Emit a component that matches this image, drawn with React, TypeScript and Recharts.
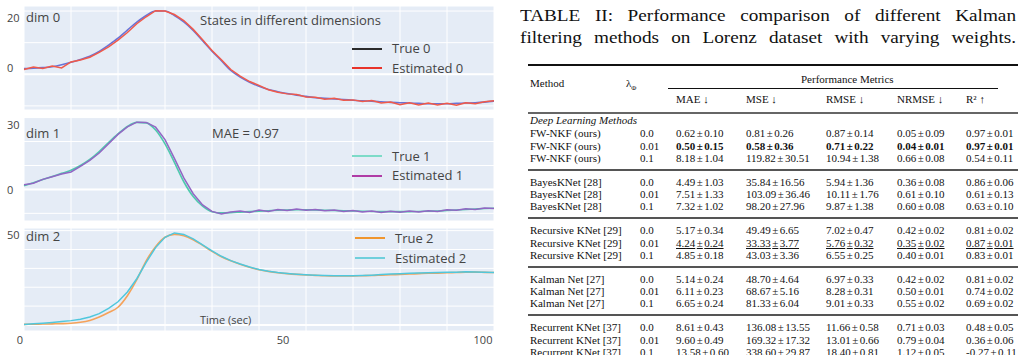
import React from 'react';
import { LineChart, Line, XAxis, YAxis, CartesianGrid, ReferenceLine } from 'recharts';

// time axis (sec), one sample every 2 s
const timeSec = [0, 2, 4, 6, 8, 10, 12, 14, 16, 18, 20, 22, 24, 26, 28, 30, 32, 34, 36, 38, 40, 42, 44, 46, 48, 50, 52, 54, 56, 58, 60, 62, 64, 66, 68, 70, 72, 74, 76, 78, 80, 82, 84, 86, 88, 90, 92, 94, 96, 98, 100];

const trueDim0 = [1.8, 1.9, 2.1, 2.4, 3.0, 3.8, 4.7, 5.7, 7.2, 9.2, 11.4, 14.0, 16.5, 18.6, 20.0, 20.0, 18.6, 16.6, 13.9, 10.6, 7.3, 4.3, 1.2, -0.9, -2.5, -3.8, -4.8, -5.5, -6.1, -6.6, -7.0, -7.4, -7.6, -7.8, -8.0, -8.2, -8.4, -8.5, -8.7, -8.9, -9.0, -9.1, -9.2, -9.3, -9.3, -9.3, -9.2, -9.1, -9.0, -8.8, -8.5];
const estDim0 = [1.5, 2.3, 1.8, 2.6, 2.0, 3.9, 4.5, 5.4, 6.9, 8.7, 10.8, 13.2, 16.0, 18.2, 20.1, 20.0, 18.9, 17.0, 14.2, 10.9, 7.5, 4.6, 1.5, -0.6, -2.3, -3.5, -4.9, -5.7, -6.2, -6.4, -7.2, -7.3, -7.9, -7.6, -8.2, -8.1, -8.6, -8.3, -9.1, -8.8, -9.6, -9.0, -9.7, -9.1, -9.7, -9.2, -9.8, -9.0, -9.3, -8.7, -8.4];

const trueDim1 = [1.5, 2.8, 4.1, 5.4, 6.7, 8.0, 10.0, 12.5, 15.8, 19.6, 23.2, 26.3, 28.0, 27.8, 24.8, 19.0, 11.3, 3.2, -3.0, -7.0, -9.3, -9.8, -9.7, -9.5, -9.3, -9.1, -8.9, -8.7, -8.6, -8.5, -8.5, -8.6, -8.7, -8.8, -8.9, -9.0, -9.1, -9.2, -9.3, -9.3, -9.3, -9.3, -9.2, -9.1, -9.0, -8.8, -8.6, -8.4, -8.2, -8.0, -7.9];
const estDim1 = [1.9, 2.6, 4.2, 5.3, 6.4, 7.3, 9.6, 12.1, 15.2, 19.1, 23.0, 26.1, 28.1, 28.0, 26.0, 20.8, 13.0, 4.8, -1.8, -6.5, -9.2, -10.3, -9.4, -9.0, -9.6, -8.6, -9.2, -8.4, -8.8, -8.2, -8.7, -8.4, -8.9, -8.6, -9.2, -8.8, -9.4, -9.0, -9.6, -9.1, -9.5, -9.0, -9.4, -8.9, -9.2, -8.5, -8.7, -8.1, -8.4, -7.8, -8.0];

const trueDim2 = [0.3, 0.4, 0.5, 0.6, 0.7, 0.9, 1.4, 2.4, 4.2, 6.6, 9.4, 15.5, 24.0, 34.0, 41.5, 46.5, 48.0, 47.3, 45.2, 42.2, 39.0, 36.2, 34.0, 32.2, 30.6, 29.3, 28.4, 27.7, 27.2, 26.8, 26.5, 26.3, 26.1, 26.0, 26.0, 26.0, 26.1, 26.2, 26.4, 26.6, 26.8, 27.0, 27.2, 27.4, 27.5, 27.7, 27.8, 28.0, 28.0, 27.9, 27.8];
const estDim2 = [0.3, 0.6, 0.9, 1.3, 1.8, 2.3, 3.0, 4.2, 6.0, 8.8, 12.3, 17.5, 24.5, 33.2, 41.0, 46.5, 48.8, 48.0, 45.6, 42.5, 39.3, 36.4, 34.1, 32.3, 30.7, 29.4, 28.5, 27.8, 27.3, 26.9, 26.6, 26.4, 26.2, 26.1, 26.1, 26.1, 26.2, 26.4, 26.7, 27.0, 27.2, 27.4, 27.6, 27.7, 27.8, 27.9, 28.0, 28.2, 28.1, 27.9, 27.8];

const xGridTicks = [0, 10, 20, 30, 40, 50, 60, 70, 80, 90, 100];
const xLabelTicks = [0, 50, 100];

// table
const tableTitle = [
  'TABLE II: Performance comparison of different Kalman',
  'filtering methods on Lorenz dataset with varying weights.',
];
const methodNames = ['FW-NKF (ours)', 'BayesKNet [28]', 'Recursive KNet [29]', 'Kalman Net [27]', 'Recurrent KNet [37]'];
const lambdaValues = ['0.0', '0.01', '0.1'];
const metricHeaders = ['MAE ↓', 'MSE ↓', 'RMSE ↓', 'NRMSE ↓', 'R² ↑'];
const metricRows = [
  ['0.62±0.10', '0.81±0.26', '0.87±0.14', '0.05±0.09', '0.97±0.01'],
  ['0.50±0.15', '0.58±0.36', '0.71±0.22', '0.04±0.01', '0.97±0.01'],
  ['8.18±1.04', '119.82±30.51', '10.94±1.38', '0.66±0.08', '0.54±0.11'],
  ['4.49±1.03', '35.84±16.56', '5.94±1.36', '0.36±0.08', '0.86±0.06'],
  ['7.51±1.33', '103.09±36.46', '10.11±1.76', '0.61±0.10', '0.61±0.13'],
  ['7.32±1.02', '98.20±27.96', '9.87±1.38', '0.60±0.08', '0.63±0.10'],
  ['5.17±0.34', '49.49±6.65', '7.02±0.47', '0.42±0.02', '0.81±0.02'],
  ['4.24±0.24', '33.33±3.77', '5.76±0.32', '0.35±0.02', '0.87±0.01'],
  ['4.85±0.18', '43.03±3.36', '6.55±0.25', '0.40±0.01', '0.83±0.01'],
  ['5.14±0.24', '48.70±4.64', '6.97±0.33', '0.42±0.02', '0.81±0.02'],
  ['6.11±0.23', '68.67±5.16', '8.28±0.31', '0.50±0.01', '0.74±0.02'],
  ['6.65±0.24', '81.33±6.04', '9.01±0.33', '0.55±0.02', '0.69±0.02'],
  ['8.61±0.43', '136.08±13.55', '11.66±0.58', '0.71±0.03', '0.48±0.05'],
  ['9.60±0.49', '169.32±17.32', '13.01±0.66', '0.79±0.04', '0.36±0.06'],
  ['13.58±0.60', '338.60±29.87', '18.40±0.81', '1.12±0.05', '-0.27±0.11'],
];
const boldRow = 1;
const underlineRow = 7;

const font = '"Open Sans", sans-serif';
const serif = '"Liberation Serif", "Times New Roman", serif';
const textColor = '#444';

const panels = [
  {
    top: 0, height: 116, mt: 6, mb: 6, domain: [-11.3, 21.6], ticks: [-10, 0, 10, 20],
    labelShift: { 20: 6, 0: -7 } as Record<number, number>,
    truth: trueDim0, est: estDim0, trueColor: '#6973d6', estColor: '#f05a4a', showX: false,
  },
  {
    top: 110, height: 116, mt: 7, mb: 5, domain: [-13.2, 30.25], ticks: [-10, 0, 10, 20, 30],
    labelShift: { 30: 7, 0: 0 } as Record<number, number>,
    truth: trueDim1, est: estDim1, trueColor: '#4fc9ad', estColor: '#9266c4', showX: false,
  },
  {
    top: 221, height: 134, mt: 7, mb: 0, domain: [-3.2, 51.4], ticks: [0, 10, 20, 30, 40, 50],
    labelShift: { 50: 4 } as Record<number, number>,
    truth: trueDim2, est: estDim2, trueColor: '#f5a25a', estColor: '#4fc7dd', showX: true,
  },
];

const xLabelShift: Record<number, number> = { 0: -4, 50: 24, 100: -11 };

const XTick = (props: any) => {
  const { x, y, payload } = props;
  if (!xLabelTicks.includes(payload.value)) return <g />;
  return (
    <text x={x + xLabelShift[payload.value]} y={y + 6} textAnchor="middle" dominantBaseline="central"
      fontSize={11} fontFamily={font} fill={textColor}>
      {payload.value}
    </text>
  );
};

const makeYTick = (shift: Record<number, number>) => (props: any) => {
  const { y, payload } = props;
  const s = shift[payload.value];
  if (s === undefined) return <g />;
  return (
    <text x={7} y={y + s} textAnchor="start" dominantBaseline="central" fontSize={11} fontFamily={font} fill={textColor}>
      {payload.value}
    </text>
  );
};

const Note = ({ x, cy, size = 13, children }: any) => (
  <div style={{ position: 'absolute', left: x, top: cy - size * 0.72, lineHeight: `${Math.round(size * 1.4)}px`, fontSize: size, fontFamily: font, color: textColor, whiteSpace: 'nowrap' }}>
    {children}
  </div>
);

const LegendItem = ({ x, cy, color, label }: any) => (
  <>
    <div style={{ position: 'absolute', left: x, top: cy - 1, width: 30, height: 2, background: color }} />
    <Note x={x + 40} cy={cy}>{label}</Note>
  </>
);

const Cell = ({ x, cy, children, style }: any) => (
  <div style={{ position: 'absolute', left: x, top: cy - 6, lineHeight: '12px', fontSize: 11, fontFamily: serif, color: '#111', whiteSpace: 'nowrap', ...style }}>
    {children}
  </div>
);

const PlusMinus = ({ v }: { v: string }) => {
  const [a, b] = v.split('±');
  return <>{a}<span style={{ margin: '0 1.5px' }}>±</span>{b}</>;
};

const Rule = ({ x1 = 528, x2 = 1018, y, h = 2, color = '#555' }: any) => (
  <div style={{ position: 'absolute', left: x1, top: y - h / 2, width: x2 - x1, height: h, background: color }} />
);

const metricCols = [676, 746, 826, 897, 966];
const groupStart = (g: number) => 133.3 + g * 48.5;
const rowStep = 12.2;
const titleStretch = 1.2;

const PanelChart = ({ p }: any) => {
  const data = timeSec.map((t, i) => ({ t, truth: p.truth[i], est: p.est[i] }));
  return (
    <div style={{ position: 'absolute', left: 0, top: p.top }}>
      <LineChart width={500} height={p.height} data={data} margin={{ top: p.mt, right: 6, bottom: p.mb, left: 0 }}>
        <CartesianGrid fill="#e5ecf6" fillOpacity={1} stroke="#ffffff" strokeWidth={1} />
        <XAxis type="number" dataKey="t" domain={[0, 100]} ticks={xGridTicks} interval={0} hide={!p.showX}
          height={24} axisLine={false} tickLine={false} tickSize={0} tick={<XTick />} />
        <YAxis type="number" domain={p.domain} ticks={p.ticks} interval={0} allowDataOverflow width={24}
          axisLine={false} tickLine={false} tick={makeYTick(p.labelShift)} />
        <ReferenceLine y={0} stroke="#ffffff" strokeWidth={2} />
        <Line type="monotone" dataKey="truth" stroke={p.trueColor} strokeWidth={1.6} dot={false} isAnimationActive={false} />
        <Line type="linear" dataKey="est" stroke={p.estColor} strokeWidth={1.5} dot={false} isAnimationActive={false} />
      </LineChart>
    </div>
  );
};

export default function App() {
  return (
    <div style={{ position: 'absolute', left: 0, top: 0, width: 1018, height: 355, overflow: 'hidden', background: '#fff' }}>
      {panels.map((p, i) => <PanelChart key={i} p={p} />)}

      <Note x={26} cy={17.3}>dim 0</Note>
      <Note x={200} cy={20}>States in different dimensions</Note>
      <LegendItem x={352} cy={48.5} color="#2b2b2b" label="True 0" />
      <LegendItem x={352} cy={68.3} color="#e8332a" label="Estimated 0" />

      <Note x={26} cy={133}>dim 1</Note>
      <Note x={212} cy={133}>MAE = 0.97</Note>
      <LegendItem x={352} cy={156} color="#7ddbc8" label="True 1" />
      <LegendItem x={352} cy={175.7} color="#b03ca6" label="Estimated 1" />

      <Note x={26} cy={236.7}>dim 2</Note>
      <LegendItem x={355} cy={238.3} color="#f0962e" label="True 2" />
      <LegendItem x={355} cy={258.3} color="#6fcfdc" label="Estimated 2" />
      <Note x={200} cy={320} size={11}>Time (sec)</Note>

      {tableTitle.map((line, i) => (
        <div key={i} style={{
          position: 'absolute', left: 520, top: 4.5 + i * 22, width: 496 / titleStretch, fontSize: 16, lineHeight: '22px',
          fontFamily: serif, color: '#111', textAlign: 'justify', textAlignLast: 'justify',
          transform: `scaleX(${titleStretch})`, transformOrigin: 'left top',
        }}>
          {line}
        </div>
      ))}

      <Rule y={65} h={1.3} color="#111" />
      <Cell x={530} cy={83.3}>Method</Cell>
      <Cell x={626} cy={83.3}>λ<sub style={{ fontSize: 7 }}>Φ</sub></Cell>
      <Cell x={801} cy={79}>Performance Metrics</Cell>
      <Rule x1={668} x2={998} y={88.3} h={1} color="#111" />
      {metricHeaders.map((h, i) => <Cell key={h} x={metricCols[i]} cy={98.5}>{h}</Cell>)}
      <Rule y={113} h={2.2} color="#666" />
      <Cell x={530} cy={119.5} style={{ fontStyle: 'italic' }}>Deep Learning Methods</Cell>

      {methodNames.map((m, g) => (
        <React.Fragment key={m}>
          {g > 0 && <Rule y={groupStart(g) - 12} h={2} color="#555" />}
          {lambdaValues.map((l, r) => {
            const idx = g * 3 + r;
            const cy = groupStart(g) + r * rowStep;
            const st: any = idx === boldRow ? { fontWeight: 'bold' } : idx === underlineRow ? { textDecoration: 'underline' } : {};
            return (
              <React.Fragment key={l}>
                <Cell x={530} cy={cy}>{m}</Cell>
                <Cell x={640} cy={cy}>{l}</Cell>
                {metricRows[idx].map((v, c) => (
                  <Cell key={c} x={metricCols[c]} cy={cy} style={st}><PlusMinus v={v} /></Cell>
                ))}
              </React.Fragment>
            );
          })}
        </React.Fragment>
      ))}
    </div>
  );
}
